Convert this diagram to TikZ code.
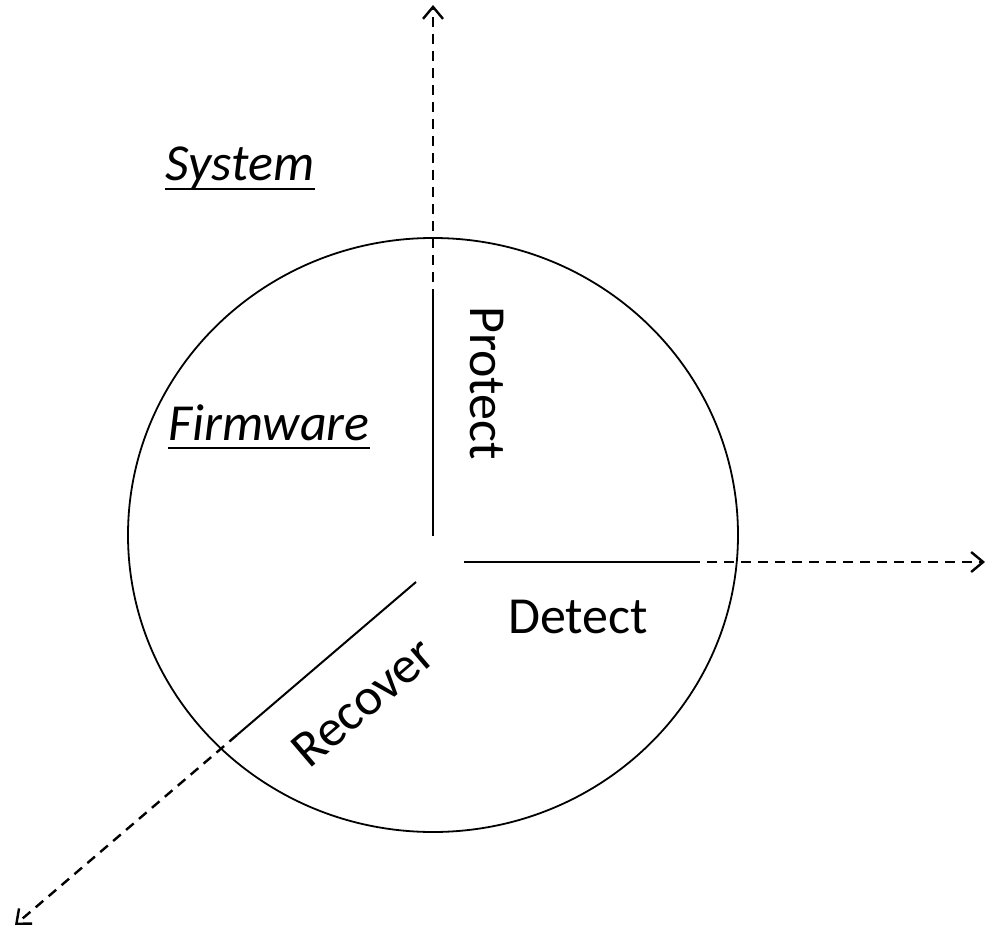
\documentclass[tikz,border=0pt]{standalone}
\usepackage{fontspec}
\setmainfont{Carlito}
\usetikzlibrary{arrows.meta}
\tikzset{>={Straight Barb[length=6pt,width=10pt]}}
\tikzset{
  axis/.style={->, line width=1.2pt, dash pattern=on 5pt off 3.5pt},
  seg/.style={line width=1pt},
  lbl/.style={font=\fontsize{26}{30}\selectfont, inner sep=0pt},
  uline/.style={line width=1.4pt}
}

\begin{document}
\begin{tikzpicture}[x=.5pt, y=-.5pt]
    \useasboundingbox(0, 0) rectangle (986, 931);
    \draw[line width=.9pt](433, 535) ellipse [x radius=152.5pt, y radius=148.5pt];
    % the three axes, solid inside, dashed going out
    \coordinate(pTop) at (433, 5);
    \coordinate(pUp1) at (433, 536);
    \coordinate(pUp2) at (433, 299);
    \coordinate(pRight) at (985, 562);
    \coordinate(pRt1) at (464, 562);
    \coordinate(pRt2) at (690, 562);
    \coordinate(pLeft) at (15, 925);
    \coordinate(pDg1) at (416, 582);
    \coordinate(pDg2) at (237, 735);
    \draw[seg](pUp1)--(pUp2);
    \draw[axis](pUp2)--(pTop);
    \draw[seg](pRt1)--(pRt2);
    \draw[axis](pRt2)--(pRight);
    \draw[seg](pDg1)--(pDg2);
    \draw[axis](pDg2)--(pLeft);
    % labels
    \node[lbl, anchor=base](system)at(240, 181){\itshape System};
    \draw[uline]([yshift=-4pt]system.base west)--([yshift=-4pt]system.base east);
    \node[lbl, anchor=base](firmware)at(269, 440){\itshape Firmware};
    \draw[uline]([yshift=-4pt]firmware.base west)--([yshift=-4pt]firmware.base east);
    \node[lbl, rotate=-90](protect)at(487, 383){Protect};
    \node[lbl, anchor=base](detect)at(578, 633){Detect};
    \node[lbl, rotate=40.5](recover)at(363, 702){Recover};
\end{tikzpicture}
\end{document}
